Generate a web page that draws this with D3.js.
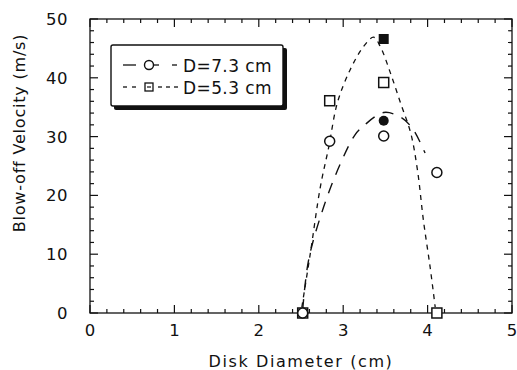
<!DOCTYPE html>
<html><head><meta charset="utf-8">
<script src="https://cdn.jsdelivr.net/npm/d3@7"></script>
<style>body{margin:0;background:#fff}svg{display:block}text{font-family:"DejaVu Sans",sans-serif;fill:#111}</style>
</head><body><svg id="c" width="517" height="370"></svg>
<script>
// Data
const xTicks = [0, 1, 2, 3, 4, 5];
const yTicks = [0, 10, 20, 30, 40, 50];
const seriesNames = ["D=7.3 cm", "D=5.3 cm"];
// D = 7.3 cm (open circles)
const diam73 = [2.52, 2.84, 3.48, 4.11];
const vel73 = [0, 29.2, 30.1, 23.9];
const filled73 = [[3.48, 32.7]];
// D = 5.3 cm (open squares)
const diam53 = [2.52, 2.84, 3.48, 4.11];
const vel53 = [0, 36.1, 39.2, 0];
const filled53 = [[3.48, 46.6]];
// fitted curves
const curve73x = [2.52, 2.59, 2.77, 2.97, 3.14, 3.24, 3.48, 3.68, 3.82, 3.97];
const curve73y = [0.5, 9.0, 18.1, 25.5, 30.3, 31.8, 34.1, 33.3, 31.4, 27.2];
const curve53x = [2.51, 2.61, 2.73, 2.83, 2.93, 3.08, 3.24, 3.36, 3.44, 3.56, 3.68, 3.80, 3.88, 3.95, 4.03, 4.09];
const curve53y = [1, 10.1, 21.5, 28.3, 35.7, 41.3, 45.3, 46.9, 45.3, 40.8, 35.7, 30.6, 24.3, 15.8, 7.8, 1];

const svg = d3.select("#c");
const L = 90, R = 512, T = 19, B = 313;
const x = d3.scaleLinear().domain([0, 5]).range([L, R]);
const y = d3.scaleLinear().domain([0, 50]).range([B, T]);
const ink = "#111";

// frame
svg.append("rect").attr("x", L).attr("y", T).attr("width", R - L).attr("height", B - T)
  .attr("fill", "none").attr("stroke", ink).attr("stroke-width", 1.3);

// ticks (inward, all four sides)
const xMinor = d3.range(0, 5.001, 0.2);
const yMinor = d3.range(0, 50.001, 2);
const isMajor = (v, s) => Math.abs(v / s - Math.round(v / s)) < 1e-6;
const tk = svg.append("g").attr("stroke", ink).attr("stroke-width", 1.2);
xMinor.forEach(v => {
  const len = isMajor(v, 1) ? 8 : 4;
  tk.append("line").attr("x1", x(v)).attr("x2", x(v)).attr("y1", B).attr("y2", B - len);
  tk.append("line").attr("x1", x(v)).attr("x2", x(v)).attr("y1", T).attr("y2", T + len);
});
yMinor.forEach(v => {
  const len = isMajor(v, 10) ? 8 : 4;
  tk.append("line").attr("y1", y(v)).attr("y2", y(v)).attr("x1", L).attr("x2", L + len);
  tk.append("line").attr("y1", y(v)).attr("y2", y(v)).attr("x1", R).attr("x2", R - len);
});

// tick labels
svg.append("g").selectAll("text").data(xTicks).join("text")
  .attr("x", d => x(d)).attr("y", 336).attr("text-anchor", "middle")
  .attr("font-size", 16.5).text(d => d);
svg.append("g").selectAll("text").data(yTicks).join("text")
  .attr("x", 68).attr("y", d => y(d) + 6).attr("text-anchor", "end")
  .attr("font-size", 16.5).attr("letter-spacing", 0.5).text(d => d);

// axis titles
svg.append("text").attr("x", (L + R) / 2).attr("y", 367).attr("text-anchor", "middle")
  .attr("font-size", 16).attr("letter-spacing", 1.6).text("Disk Diameter (cm)");
svg.append("text").attr("transform", "translate(25,133) rotate(-90)").attr("text-anchor", "middle")
  .attr("font-size", 16).attr("letter-spacing", 0.8).text("Blow-off Velocity (m/s)");

// curves
const line = d3.line().x(d => x(d[0])).y(d => y(d[1])).curve(d3.curveCatmullRom);
svg.append("path").attr("d", line(d3.zip(curve73x, curve73y)))
  .attr("fill", "none").attr("stroke", ink).attr("stroke-width", 1.4).attr("stroke-dasharray", "11,9");
svg.append("path").attr("d", line(d3.zip(curve53x, curve53y)))
  .attr("fill", "none").attr("stroke", ink).attr("stroke-width", 1.3).attr("stroke-dasharray", "5,5");

// markers
const sq = 10, rc = 5;
svg.append("g").selectAll("rect").data(d3.zip(diam53, vel53)).join("rect")
  .attr("x", d => x(d[0]) - sq / 2).attr("y", d => y(d[1]) - sq / 2).attr("width", sq).attr("height", sq)
  .attr("fill", "#fff").attr("stroke", ink).attr("stroke-width", 1.5);
svg.append("g").selectAll("circle").data(d3.zip(diam73, vel73)).join("circle")
  .attr("cx", d => x(d[0])).attr("cy", d => y(d[1])).attr("r", rc)
  .attr("fill", "#fff").attr("stroke", ink).attr("stroke-width", 1.5);
svg.append("g").selectAll("rect").data(filled53).join("rect")
  .attr("x", d => x(d[0]) - sq / 2).attr("y", d => y(d[1]) - sq / 2).attr("width", sq).attr("height", sq)
  .attr("fill", ink);
svg.append("g").selectAll("circle").data(filled73).join("circle")
  .attr("cx", d => x(d[0])).attr("cy", d => y(d[1])).attr("r", rc).attr("fill", ink);

// legend
const lg = svg.append("g");
lg.append("rect").attr("x", 114).attr("y", 48).attr("width", 173).attr("height", 62).attr("rx", 2).attr("fill", ink);
lg.append("rect").attr("x", 111).attr("y", 45).attr("width", 172).attr("height", 61).attr("rx", 2)
  .attr("fill", "#fff").attr("stroke", ink).attr("stroke-width", 1.4);
const ly = [65, 87];
// series 1 sample
lg.append("line").attr("x1", 123).attr("x2", 136).attr("y1", ly[0]).attr("y2", ly[0]).attr("stroke", ink).attr("stroke-width", 1.3);
lg.append("line").attr("x1", 154).attr("x2", 159).attr("y1", ly[0]).attr("y2", ly[0]).attr("stroke", ink).attr("stroke-width", 1.3);
lg.append("line").attr("x1", 172).attr("x2", 177).attr("y1", ly[0]).attr("y2", ly[0]).attr("stroke", ink).attr("stroke-width", 1.3);
lg.append("circle").attr("cx", 149).attr("cy", ly[0]).attr("r", 4.5).attr("fill", "#fff").attr("stroke", ink).attr("stroke-width", 1.4);
// series 2 sample
[[123,127],[132,136],[158,162],[166,170],[174,178]].forEach(s =>
  lg.append("line").attr("x1", s[0]).attr("x2", s[1]).attr("y1", ly[1]).attr("y2", ly[1]).attr("stroke", ink).attr("stroke-width", 1.3));
lg.append("rect").attr("x", 145).attr("y", ly[1] - 4).attr("width", 8).attr("height", 8).attr("fill", "#fff").attr("stroke", ink).attr("stroke-width", 1.3);
lg.append("line").attr("x1", 147).attr("x2", 151).attr("y1", ly[1]).attr("y2", ly[1]).attr("stroke", ink).attr("stroke-width", 1.2);
lg.selectAll("text.l").data(seriesNames).join("text").attr("class", "l")
  .attr("x", 183).attr("y", (d, i) => ly[i] + 7).attr("font-size", 17).attr("letter-spacing", 0.4).text(d => d);
</script></body></html>
